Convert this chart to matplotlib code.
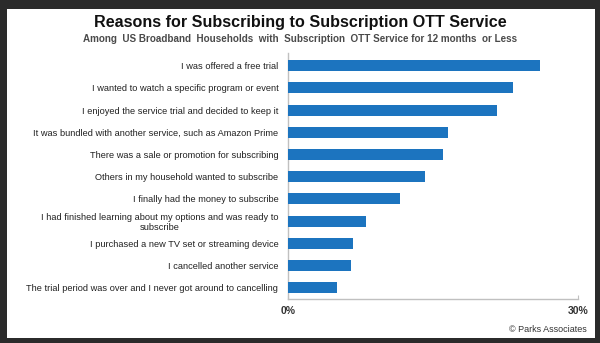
import matplotlib.pyplot as plt
from matplotlib.patches import Rectangle

plt.rcParams['font.family'] = ['Liberation Sans', 'DejaVu Sans']

# data (percent of respondents)
reasons = [
    'I was offered a free trial',
    'I wanted to watch a specific program or event',
    'I enjoyed the service trial and decided to keep it',
    'It was bundled with another service, such as Amazon Prime',
    'There was a sale or promotion for subscribing',
    'Others in my household wanted to subscribe',
    'I finally had the money to subscribe',
    'I had finished learning about my options and was ready to\nsubscribe',
    'I purchased a new TV set or streaming device',
    'I cancelled another service',
    'The trial period was over and I never got around to cancelling',
]
shares = [26.1, 23.3, 21.6, 16.6, 16.0, 14.2, 11.6, 8.1, 6.7, 6.5, 5.1]
x_ticks = [0, 30]
x_tick_labels = ['0%', '30%']

bar_color = '#1c74bf'
W, H = 600, 343

fig = plt.figure(figsize=(6, 3.43), dpi=100)
fig.patch.set_facecolor('#2b2b2b')

# white card
fig.add_artist(Rectangle((6.5 / W, 1 - 338 / H), (595 - 6.5) / W, (338 - 8.5) / H,
                         transform=fig.transFigure, facecolor='white',
                         edgecolor='none', zorder=0))

ax = fig.add_axes([288 / W, 1 - 299 / H, 290 / W, (299 - 53) / H])
ax.set_facecolor('none')

ypos = list(range(len(reasons) - 1, -1, -1))
ax.barh(ypos, shares, height=0.5, color=bar_color, zorder=3)

ax.set_xlim(0, 30)
ax.set_ylim(-0.51, 10.57)
ax.set_xticks(x_ticks)
ax.set_xticklabels(x_tick_labels, fontsize=7.5, fontweight='bold', color='#333333')
ax.set_yticks(ypos)
ax.set_yticklabels(reasons, fontsize=6.65, color='#222222', multialignment='center')
ax.tick_params(axis='y', length=0, pad=7)
ax.tick_params(axis='x', direction='in', length=3, width=0.8, color='#c0c0c0', pad=5)

for side in ['top', 'right']:
    ax.spines[side].set_visible(False)
for side in ['left', 'bottom']:
    ax.spines[side].set_color('#c0c0c0')
    ax.spines[side].set_linewidth(1.0)

fig.text(300 / W, 1 - 22 / H, 'Reasons for Subscribing to Subscription OTT Service',
         ha='center', va='center', fontsize=11.6, fontweight='bold', color='#111111')
fig.text(300 / W, 1 - 39 / H,
         'Among  US Broadband  Households  with  Subscription  OTT Service for 12 months  or Less',
         ha='center', va='center', fontsize=7.15, fontweight='bold', color='#4a4a4a')
fig.text(587 / W, 1 - 330 / H, '\u00a9 Parks Associates',
         ha='right', va='center', fontsize=6.5, color='#333333')

fig.savefig('out.png', dpi=100, facecolor=fig.get_facecolor())
